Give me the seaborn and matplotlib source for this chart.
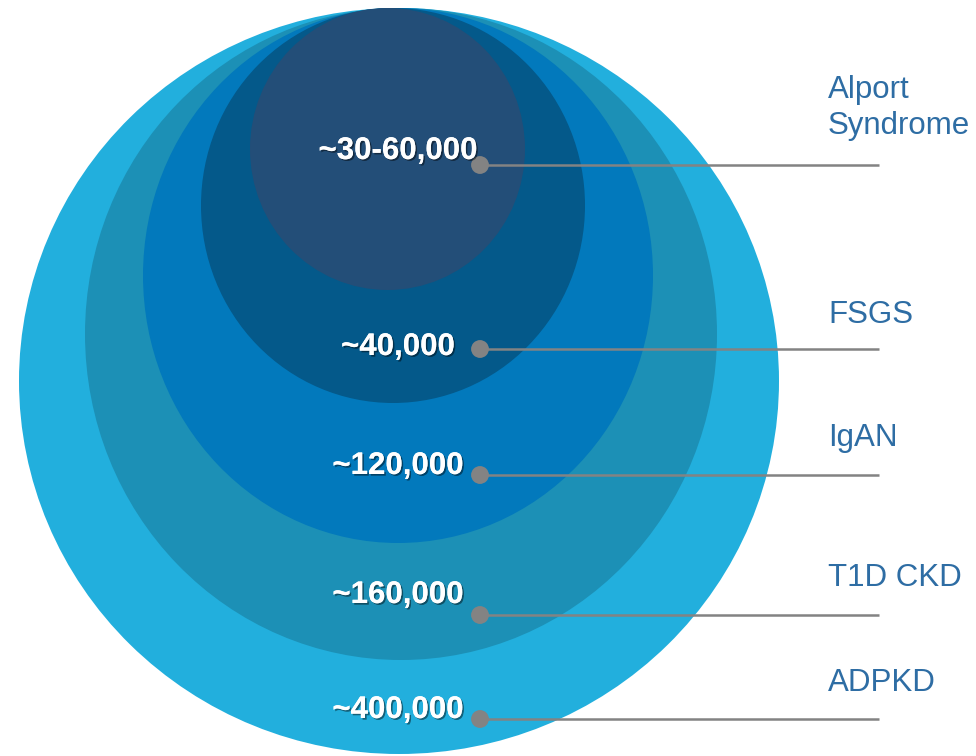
import matplotlib
matplotlib.use("Agg")
import matplotlib.pyplot as plt
import matplotlib.patheffects as pe
from matplotlib.patches import Ellipse
import pandas as pd
import seaborn as sns

# --- data ---------------------------------------------------------------
diseases = ["Alport\nSyndrome", "FSGS", "IgAN", "T1D CKD", "ADPKD"]
prevalence = ["~30-60,000", "~40,000", "~120,000", "~160,000", "~400,000"]

# --- layout (pixel space, y grows downward) -----------------------------
# nested discs, drawn from the outermost inwards
disc_cx = [399, 401, 398, 393, 387.5]
disc_cy = [381, 334, 275.5, 205.5, 149]
disc_w = [760, 632, 510, 384, 275]
disc_h = [746, 652, 535, 395, 282]
disc_colors = ["#22AFDD", "#1C90B6", "#0279BC", "#04598A", "#234E78"]

leader_y = [165, 349, 475, 615, 719]      # one per disease, top to bottom
leader_x0, leader_x1 = 480, 879
value_x = 398
value_base = [159, 355, 474, 603, 718]
name_x = 828
name_base = [134, 323, 446, 586, 691]     # baseline of each label's last line

sns.set_theme(style="white")
plt.rcParams["font.family"] = ["Liberation Sans", "DejaVu Sans"]

fig = plt.figure(figsize=(9.76, 7.56), dpi=100)
ax = fig.add_axes([0, 0, 1, 1])

for cx, cy, w, h, c in zip(disc_cx, disc_cy, disc_w, disc_h, disc_colors):
    ax.add_patch(Ellipse((cx, cy), w, h, facecolor=c, edgecolor="none", zorder=1))

# leader lines and anchor dots
ax.hlines(leader_y, leader_x0, leader_x1, color="#838383", lw=1.8, zorder=3)
dots = pd.DataFrame({"x": [leader_x0] * len(leader_y), "y": leader_y})
sns.scatterplot(data=dots, x="x", y="y", ax=ax, s=165, color="#838383",
                edgecolor="none", zorder=4, legend=False)
ax.set_xlim(0, 976)
ax.set_ylim(756, 0)
ax.axis("off")

shadow = [pe.withSimplePatchShadow(offset=(1.2, -1.2), shadow_rgbFace="black", alpha=0.45),
          pe.Normal()]
for txt, yb in zip(prevalence, value_base):
    ax.text(value_x, yb, txt, ha="center", va="baseline", color="white",
            fontsize=22.5, fontweight="bold", zorder=5, path_effects=shadow)

for txt, yb in zip(diseases, name_base):
    ax.text(name_x, yb, txt, ha="left", va="baseline", color="#2E6DA4",
            fontsize=22.5, linespacing=1.27, zorder=5)

fig.savefig("out.png", dpi=100, facecolor="white")
